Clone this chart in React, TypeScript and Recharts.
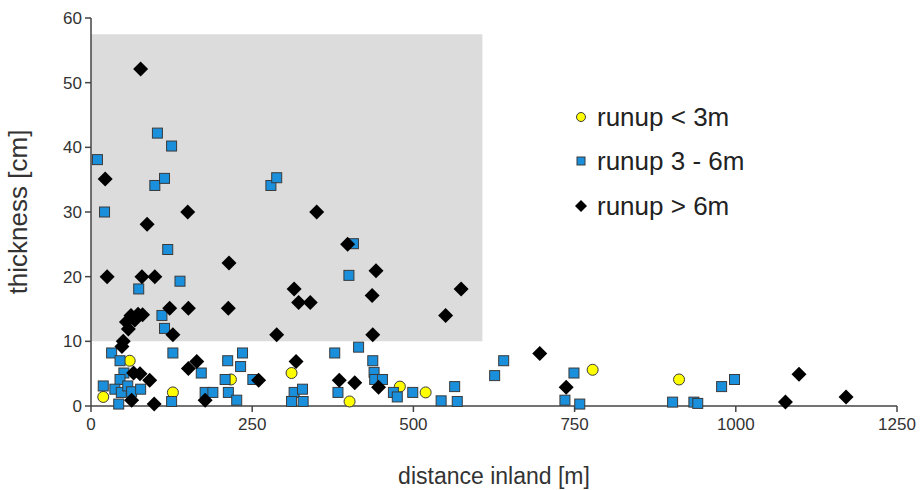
import React from "react";
import {
  ScatterChart,
  Scatter,
  XAxis,
  YAxis,
  ReferenceArea,
  Label,
} from "recharts";

// distance inland [m], thickness [cm]
const runupLow = [
  { x: 19, y: 1.4 }, { x: 60, y: 7.0 }, { x: 127, y: 2.1 }, { x: 217, y: 4.1 },
  { x: 311, y: 5.1 }, { x: 401, y: 0.7 }, { x: 479, y: 3.0 }, { x: 519, y: 2.1 },
  { x: 778, y: 5.6 }, { x: 912, y: 4.1 },
];

const runupMid = [
  { x: 10, y: 38.1 }, { x: 21, y: 30.0 }, { x: 74, y: 18.1 }, { x: 99, y: 34.1 },
  { x: 103, y: 42.2 }, { x: 114, y: 35.2 }, { x: 110, y: 14.0 }, { x: 114, y: 12.0 },
  { x: 119, y: 24.2 }, { x: 125, y: 40.2 }, { x: 127, y: 8.2 }, { x: 138, y: 19.3 },
  { x: 279, y: 34.1 }, { x: 288, y: 35.3 }, { x: 400, y: 20.2 }, { x: 407, y: 25.1 },
  { x: 32, y: 8.2 }, { x: 45, y: 7.0 }, { x: 51, y: 5.1 }, { x: 45, y: 4.1 },
  { x: 19, y: 3.1 }, { x: 37, y: 2.6 }, { x: 47, y: 2.1 }, { x: 57, y: 3.1 },
  { x: 63, y: 2.2 }, { x: 77, y: 2.6 }, { x: 43, y: 0.3 }, { x: 125, y: 0.7 },
  { x: 171, y: 5.1 }, { x: 212, y: 7.0 }, { x: 235, y: 8.2 }, { x: 232, y: 6.1 },
  { x: 208, y: 4.1 }, { x: 251, y: 4.1 }, { x: 177, y: 2.1 }, { x: 189, y: 2.1 },
  { x: 213, y: 2.1 }, { x: 226, y: 0.9 }, { x: 415, y: 9.1 }, { x: 378, y: 8.2 },
  { x: 437, y: 7.0 }, { x: 439, y: 5.2 }, { x: 440, y: 4.1 }, { x: 452, y: 4.1 },
  { x: 315, y: 2.1 }, { x: 328, y: 2.6 }, { x: 311, y: 0.7 }, { x: 329, y: 0.7 },
  { x: 383, y: 2.1 }, { x: 469, y: 2.1 }, { x: 475, y: 1.4 }, { x: 499, y: 2.1 },
  { x: 543, y: 0.8 }, { x: 568, y: 0.7 }, { x: 564, y: 3.0 }, { x: 626, y: 4.7 },
  { x: 640, y: 7.0 }, { x: 749, y: 5.1 }, { x: 735, y: 0.9 }, { x: 758, y: 0.3 },
  { x: 902, y: 0.6 }, { x: 935, y: 0.6 }, { x: 941, y: 0.4 }, { x: 978, y: 3.0 },
  { x: 998, y: 4.1 },
];

const runupHigh = [
  { x: 77, y: 52.1 }, { x: 22, y: 35.1 }, { x: 87, y: 28.1 }, { x: 150, y: 30 },
  { x: 25, y: 20 }, { x: 79, y: 20 }, { x: 99, y: 20 }, { x: 214, y: 22.1 },
  { x: 122, y: 15.1 }, { x: 151, y: 15.1 }, { x: 213, y: 15.1 }, { x: 127, y: 11 },
  { x: 288, y: 11 }, { x: 55, y: 13.0 }, { x: 58, y: 11.9 }, { x: 62, y: 14.0 },
  { x: 68, y: 13.3 }, { x: 73, y: 14.2 }, { x: 80, y: 14.1 }, { x: 50, y: 10 },
  { x: 48, y: 9.2 }, { x: 66, y: 5.1 }, { x: 76, y: 5.0 }, { x: 91, y: 4.0 },
  { x: 151, y: 5.8 }, { x: 164, y: 6.9 }, { x: 260, y: 4.0 }, { x: 63, y: 0.9 },
  { x: 98, y: 0.3 }, { x: 177, y: 0.9 }, { x: 350, y: 30 }, { x: 398, y: 25 },
  { x: 442, y: 20.9 }, { x: 315, y: 18.1 }, { x: 322, y: 16 }, { x: 340, y: 16 },
  { x: 436, y: 17.1 }, { x: 574, y: 18.1 }, { x: 550, y: 14 }, { x: 437, y: 11 },
  { x: 318, y: 6.9 }, { x: 385, y: 4.0 }, { x: 409, y: 3.6 }, { x: 446, y: 2.9 },
  { x: 696, y: 8.1 }, { x: 737, y: 2.9 }, { x: 1098, y: 4.9 }, { x: 1077, y: 0.6 },
  { x: 1171, y: 1.4 },
];

const xTicks = [0, 250, 500, 750, 1000, 1250];
const yTicks = [0, 10, 20, 30, 40, 50, 60];
const legendLabels = ["runup < 3m", "runup 3 - 6m", "runup > 6m"];

const FONT = "'Liberation Sans', Arial, Helvetica, sans-serif";
const AXIS = "#444";
const BLUE = "#1a8fdc";
const YELLOW = "#ffff00";

const circleShape = (p: any) => (
  <circle cx={p.cx} cy={p.cy} r={5.5} fill={YELLOW} stroke="#3a3a3a" strokeWidth={1} />
);

const squareShape = (p: any) => (
  <rect x={p.cx - 5} y={p.cy - 5} width={10} height={10} fill={BLUE} stroke="#3a3a3a" strokeWidth={1} />
);

const diamondShape = (p: any) => {
  const r = 7.5;
  const { cx, cy } = p;
  return (
    <polygon
      points={`${cx},${cy - r} ${cx + r},${cy} ${cx},${cy + r} ${cx - r},${cy}`}
      fill="#000"
    />
  );
};

function LegendIcon({ i }: { i: number }) {
  return (
    <svg width={22} height={22}>
      {i === 0 && <circle cx={11} cy={11} r={4.5} fill={YELLOW} stroke="#3a3a3a" strokeWidth={1} />}
      {i === 1 && <rect x={7} y={7} width={8} height={8} fill={BLUE} stroke="#3a3a3a" strokeWidth={1} />}
      {i === 2 && <polygon points="11,5 17,11 11,17 5,11" fill="#000" />}
    </svg>
  );
}

function ChartLegend() {
  return (
    <div style={{ position: "absolute", left: 570, top: 94.5, width: 240, fontFamily: FONT }}>
      {legendLabels.map((label, i) => (
        <div key={label} style={{ display: "flex", alignItems: "center", height: 44.5 }}>
          <LegendIcon i={i} />
          <span style={{ marginLeft: 5, fontSize: 26, color: "#222", lineHeight: "28px" }}>{label}</span>
        </div>
      ))}
    </div>
  );
}

export default function App() {
  return (
    <div style={{ position: "absolute", left: 0, top: 0, width: 923, height: 490, background: "#fff" }}>
      <ScatterChart
        width={923}
        height={490}
        margin={{ top: 18, right: 26, bottom: 0, left: 0 }}
      >
        <ReferenceArea x1={0} x2={607} y1={10} y2={57.5} fill="#dcdcdc" fillOpacity={1} stroke="none" />
        <XAxis
          type="number"
          dataKey="x"
          domain={[0, 1250]}
          ticks={xTicks}
          height={84}
          tickSize={6}
          tickMargin={6}
          stroke={AXIS}
          axisLine={{ stroke: AXIS, strokeWidth: 1.5 }}
          tickLine={{ stroke: AXIS, strokeWidth: 1.5 }}
          tick={{ fill: "#333", fontSize: 17, fontFamily: FONT }}
        >
          <Label
            value="distance inland [m]"
            position="insideBottom"
            offset={6}
            style={{ fontSize: 23, fill: "#333", fontFamily: FONT }}
          />
        </XAxis>
        <YAxis
          type="number"
          dataKey="y"
          domain={[0, 60]}
          ticks={yTicks}
          width={91}
          tickSize={6}
          tickMargin={3}
          stroke={AXIS}
          axisLine={{ stroke: AXIS, strokeWidth: 1.5 }}
          tickLine={{ stroke: AXIS, strokeWidth: 1.5 }}
          tick={{ fill: "#333", fontSize: 17, fontFamily: FONT }}
        >
          <Label
            value="thickness [cm]"
            angle={-90}
            position="insideLeft"
            offset={18}
            style={{ fontSize: 26, fill: "#333", fontFamily: FONT, textAnchor: "middle" }}
          />
        </YAxis>
        <Scatter name="runup < 3m" data={runupLow} shape={circleShape} isAnimationActive={false} />
        <Scatter name="runup 3 - 6m" data={runupMid} shape={squareShape} isAnimationActive={false} />
        <Scatter name="runup > 6m" data={runupHigh} shape={diamondShape} isAnimationActive={false} />
      </ScatterChart>
      <ChartLegend />
    </div>
  );
}
